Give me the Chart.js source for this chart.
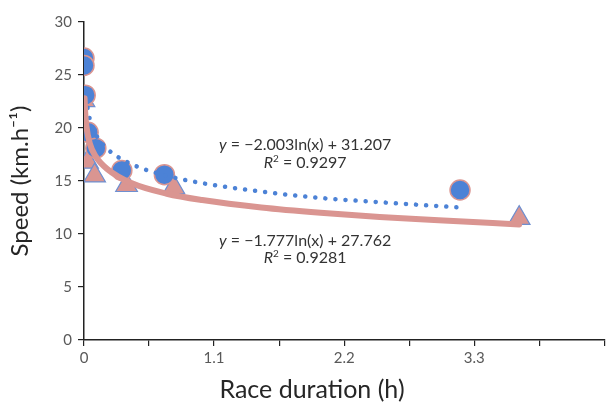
<!DOCTYPE html>
<html>
<head>
<meta charset="utf-8">
<script src="https://cdn.jsdelivr.net/npm/chart.js@4.4.1/dist/chart.umd.min.js"></script>
<style>
  html,body{margin:0;padding:0;background:#fff;overflow:hidden;}
  /* a bit wider than the window: chart.js keeps ~14px on the right, this puts the axis end at the window edge */
  #wrap{width:618px;height:402px;position:relative;}
</style>
</head>
<body>
<div id="wrap"><canvas id="c"></canvas></div>
<script>
// speed vs race duration, two groups + log trendlines
const circleX = [0.0, 0.0, 0.01, 0.035, 0.10, 0.32, 0.68, 3.18];
const circleY = [26.6, 25.9, 23.1, 19.6, 18.1, 16.0, 15.6, 14.15];
const triX = [0.0, 0.0, 0.03, 0.09, 0.36, 0.76, 3.68];
const triY = [22.6, 19.8, 16.8, 15.5, 14.6, 14.4, 11.5];

// trendlines
const blueTrendX = [0.03, 0.05, 0.1, 0.2, 0.4, 0.7, 1.0, 1.5, 2.0, 2.5, 3.18];
const blueTrendY = [21.9, 20.8, 19.4, 18.0, 16.6, 15.5, 14.8, 14.0, 13.4, 13.0, 12.5];
const pinkTrendX = [0.005, 0.01, 0.02, 0.05, 0.1, 0.2, 0.4, 0.7, 1.0, 1.5, 2.0, 2.5, 3.0, 3.68];
const pinkTrendY = [22.8, 21.5, 20.2, 18.5, 17.3, 16.1, 14.8, 13.8, 13.2, 12.5, 12.0, 11.6, 11.3, 10.9];

const xTickValues = [0, 0.55, 1.1, 1.65, 2.2, 2.75, 3.3, 3.85, 4.4];
const xTickLabels = ["0", "", "1.1", "", "2.2", "", "3.3", "", ""];

const eqBlue = ["y", " = \u22122.003ln(x) + 31.207", "0.9297"];
const eqPink = ["y", " = \u22121.777ln(x) + 27.762", "0.9281"];
const xTitle = "Race duration (h)";

const BLUE = "#4c82d6", PINK = "#da9591", FONT = "Lato, 'Open Sans', sans-serif";

function pts(xs, ys){ return xs.map(function(x,i){ return {x:x, y:ys[i]}; }); }

// draws "y = ..." and "R2 = ..." centred on a data point
function drawEq(ctx, cx, cy, eq){
  ctx.save();
  ctx.fillStyle = "#333";
  ctx.textBaseline = "alphabetic";
  const it = "italic 16px " + FONT, nm = "16px " + FONT, sm = "10px " + FONT;
  ctx.font = it; const w1 = ctx.measureText(eq[0]).width;
  ctx.font = nm; const w2 = ctx.measureText(eq[1]).width;
  let x = cx - (w1 + w2) / 2;
  ctx.font = it; ctx.fillText(eq[0], x, cy); x += w1;
  ctx.font = nm; ctx.fillText(eq[1], x, cy);
  // R² line
  const y2 = cy + 17.5, rest = " = " + eq[2];
  ctx.font = it; const r1 = ctx.measureText("R").width;
  ctx.font = sm; const r2 = ctx.measureText("2").width;
  ctx.font = nm; const r3 = ctx.measureText(rest).width;
  x = cx - (r1 + r2 + r3) / 2;
  ctx.font = it; ctx.fillText("R", x, y2); x += r1;
  ctx.font = sm; ctx.fillText("2", x, y2 - 6); x += r2;
  ctx.font = nm; ctx.fillText(rest, x, y2);
  ctx.restore();
}

const eqPlugin = {
  id: "eqs",
  afterDatasetsDraw: function(chart){
    const xs = chart.scales.x, ys = chart.scales.y, ctx = chart.ctx;
    drawEq(ctx, xs.getPixelForValue(1.87), ys.getPixelForValue(17.9), eqBlue);
    drawEq(ctx, xs.getPixelForValue(1.87), ys.getPixelForValue(8.9), eqPink);
    // x axis title sits a bit left of centre in the original
    ctx.save();
    ctx.font = "25px " + FONT; ctx.fillStyle = "#262626";
    ctx.textAlign = "center"; ctx.textBaseline = "alphabetic";
    ctx.fillText(xTitle, xs.left + 228, xs.bottom - 4);
    ctx.restore();
  }
};

new Chart(document.getElementById("c"), {
  type: "scatter",
  data: { datasets: [
    {label:"pink trend", data:pts(pinkTrendX,pinkTrendY), showLine:true, borderColor:PINK, borderWidth:6,
     pointRadius:0, cubicInterpolationMode:"monotone", borderCapStyle:"round"},
    {label:"blue trend", data:pts(blueTrendX,blueTrendY), showLine:true, borderColor:BLUE, borderWidth:4.5,
     pointRadius:0, cubicInterpolationMode:"monotone", borderDash:[0.1,10], borderCapStyle:"round"},
    {label:"circles", data:pts(circleX,circleY), pointStyle:"circle", pointRadius:10,
     backgroundColor:BLUE, borderColor:PINK, borderWidth:1.5},
    {label:"triangles", data:pts(triX,triY), pointStyle:"triangle", pointRadius:12.5,
     backgroundColor:PINK, borderColor:"#6f8fd0", borderWidth:1.2}
  ]},
  options: {
    responsive:true, maintainAspectRatio:false, animation:false,
    layout:{padding:{left:0, right:0, top:22, bottom:0}},
    plugins:{legend:{display:false}, tooltip:{enabled:false}},
    scales:{
      x:{
        type:"linear", min:0, max:4.4,
        afterBuildTicks:function(s){ s.ticks = xTickValues.map(function(v){ return {value:v}; }); },
        afterFit:function(s){ s.height = 62; s.paddingLeft = 0; s.paddingRight = 0; },
        ticks:{autoSkip:false, maxRotation:0, color:"#595959", font:{family:FONT, size:15}, padding:3,
          callback:function(v,i){ return xTickLabels[i]; }},
        grid:{display:true, drawOnChartArea:false, drawTicks:true, tickLength:6, color:"#222", lineWidth:1.2},
        border:{color:"#222", width:1.5},
        title:{display:false}
      },
      y:{
        min:0, max:30,
        afterFit:function(s){ s.width = 84; s.paddingTop = 0; s.paddingBottom = 0; },
        ticks:{stepSize:5, color:"#595959", font:{family:FONT, size:15}, padding:6},
        grid:{display:true, drawOnChartArea:false, drawTicks:true, tickLength:6, color:"#222", lineWidth:1.2},
        border:{color:"#222", width:1.5},
        title:{display:true, text:"Speed (km.h\u207B\u00B9)", color:"#262626", font:{family:FONT, size:24, lineHeight:1}, padding:{top:8,bottom:0}}
      }
    }
  },
  plugins:[eqPlugin]
});
</script>
</body>
</html>
